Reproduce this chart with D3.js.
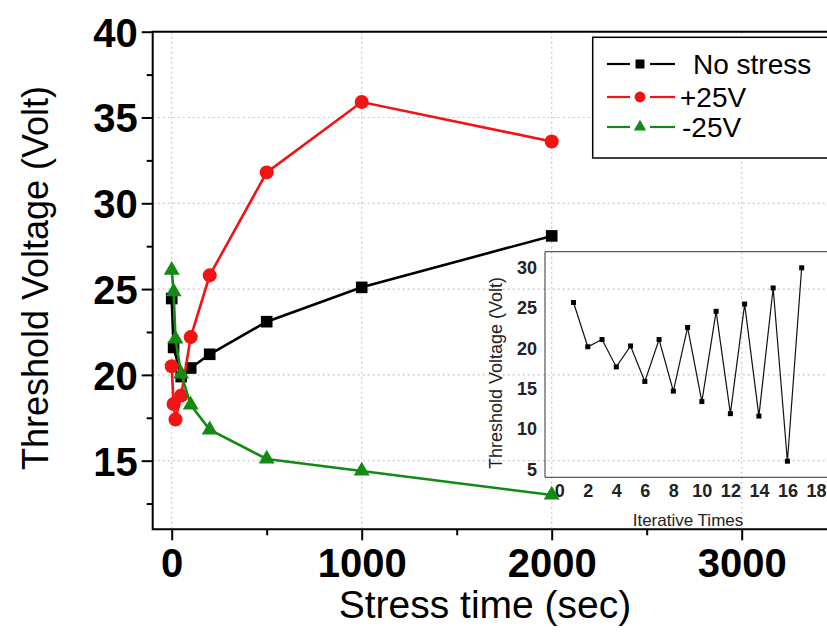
<!DOCTYPE html>
<html>
<head>
<meta charset="utf-8">
<script src="https://cdn.jsdelivr.net/npm/d3@7"></script>
<style>
  body { margin: 0; background: #fff; }
  text { font-family: "Liberation Sans", Arial, sans-serif; }
</style>
</head>
<body>
<script>
// main chart data: threshold voltage vs stress time
var noStressTime = [0, 10, 50, 100, 200, 500, 1000, 2000];
var noStressVt   = [24.45, 21.6, 19.9, 20.4, 21.2, 23.1, 25.1, 28.1];
var posTime = [0, 10, 20, 50, 100, 200, 500, 1000, 2000];
var posVt   = [20.5, 18.3, 17.4, 18.8, 22.2, 25.8, 31.8, 35.9, 33.6];
var negTime = [0, 10, 20, 50, 100, 200, 500, 1000, 2000];
var negVt   = [26.1, 24.85, 22.1, 20.05, 18.25, 16.8, 15.1, 14.4, 13.0];

var xTicks = [0, 1000, 2000, 3000];
var yTicks = [15, 20, 25, 30, 35, 40];
var legendNames = ["No stress", "+25V", "-25V"];

// inset data: threshold voltage vs iterative times
var iterTimes = [1, 2, 3, 4, 5, 6, 7, 8, 9, 10, 11, 12, 13, 14, 15, 16, 17];
var iterVt = [25.7, 20.2, 21.1, 17.7, 20.3, 15.9, 21.1, 14.7, 22.6, 13.4, 24.6, 11.9, 25.5, 11.6, 27.5, 6.0, 30.0];
var insetXTicks = [0, 2, 4, 6, 8, 10, 12, 14, 16, 18];
var insetYTicks = [5, 10, 15, 20, 25, 30];

var W = 827, H = 632;
var svg = d3.select("body").append("svg")
  .attr("width", W)
  .attr("height", H);

// scales
var plotLeft = 152.7, plotTop = 31.7, plotBottom = 529.3;
var x = d3.scaleLinear().domain([-100, 3600]).range([plotLeft, plotLeft + 3700 * 0.19]);
var y = d3.scaleLinear().domain([11, 40]).range([plotBottom, plotTop]);

// grid
var grid = svg.append("g");
grid.selectAll(".gx").data(xTicks).enter().append("line")
  .attr("x1", d => x(d)).attr("x2", d => x(d))
  .attr("y1", plotTop).attr("y2", plotBottom)
  .style("stroke", "#c8c8c8").style("stroke-width", 1.2)
  .style("stroke-dasharray", "2,3");
grid.selectAll(".gy").data(yTicks.filter(d => d < 40)).enter().append("line")
  .attr("x1", plotLeft).attr("x2", W)
  .attr("y1", d => y(d)).attr("y2", d => y(d))
  .style("stroke", "#c8c8c8").style("stroke-width", 1.2)
  .style("stroke-dasharray", "2,3");

// axes
var xAxis = d3.axisBottom(x).tickValues(d3.range(0, 3600, 500)).tickSize(10).tickFormat(d => xTicks.indexOf(d) >= 0 ? d : "");
var gx = svg.append("g").attr("transform", "translate(0," + plotBottom + ")").call(xAxis);
gx.select(".domain").remove();
gx.selectAll(".tick line").style("stroke", "#000").style("stroke-width", 2)
  .attr("y2", d => xTicks.indexOf(d) >= 0 ? 11 : 6);
gx.selectAll(".tick text").attr("y", 48).attr("dy", 0)
  .style("font-size", "40px").style("font-weight", "bold").style("fill", "#000")
  .style("font-family", "'Liberation Sans', Arial, sans-serif");

var yAxis = d3.axisLeft(y).tickValues(d3.range(12.5, 40.1, 2.5)).tickSize(10).tickFormat(d => yTicks.indexOf(d) >= 0 ? d : "");
var gy = svg.append("g").attr("transform", "translate(" + plotLeft + ",0)").call(yAxis);
gy.select(".domain").remove();
gy.selectAll(".tick line").style("stroke", "#000").style("stroke-width", 2)
  .attr("x2", d => yTicks.indexOf(d) >= 0 ? -11 : -6);
gy.selectAll(".tick text").attr("x", -15).attr("dy", "0.36em")
  .style("font-size", "40px").style("font-weight", "bold").style("fill", "#000")
  .style("font-family", "'Liberation Sans', Arial, sans-serif");

// frame
svg.append("path")
  .attr("d", "M" + W + "," + plotTop + "H" + plotLeft + "V" + plotBottom + "H" + W)
  .style("fill", "none").style("stroke", "#000").style("stroke-width", 2);

// axis titles
svg.append("text")
  .attr("x", 485).attr("y", 618)
  .attr("text-anchor", "middle")
  .style("font-size", "39px")
  .text("Stress time (sec)");
svg.append("text")
  .attr("transform", "translate(48,278) rotate(-90)")
  .attr("text-anchor", "middle")
  .style("font-size", "36px")
  .text("Threshold Voltage (Volt)");

// inset
var ix = d3.scaleLinear().domain([-1, 20]).range([545, 545 + 21 * 14.26]);
var iy = d3.scaleLinear().domain([4, 32]).range([477.3, 251.7]);

var inset = svg.append("g");
inset.append("path")
  .attr("d", "M" + W + "," + iy(32) + "H" + ix(-1) + "V" + iy(4) + "H" + W)
  .style("fill", "none").style("stroke", "#333").style("stroke-width", 1);

var gix = inset.append("g").attr("transform", "translate(0," + iy(4) + ")")
  .call(d3.axisBottom(ix).tickValues(insetXTicks).tickSize(0).tickPadding(7));
gix.select(".domain").remove();
gix.selectAll(".tick text").style("font-size", "18px").style("font-weight", "bold")
  .style("fill", "#222").style("font-family", "'Liberation Sans', Arial, sans-serif");

var giy = inset.append("g").attr("transform", "translate(" + ix(-1) + ",0)")
  .call(d3.axisLeft(iy).tickValues(insetYTicks).tickSize(0).tickPadding(8));
giy.select(".domain").remove();
giy.selectAll(".tick text").style("font-size", "18px").style("font-weight", "bold")
  .style("fill", "#222").style("font-family", "'Liberation Sans', Arial, sans-serif");

inset.append("text")
  .attr("x", 688).attr("y", 526)
  .attr("text-anchor", "middle")
  .style("font-size", "17px").style("fill", "#222")
  .text("Iterative Times");
inset.append("text")
  .attr("transform", "translate(502,373) rotate(-90)")
  .attr("text-anchor", "middle")
  .style("font-size", "18px").style("fill", "#222")
  .text("Threshold Voltage (Volt)");

var iterPts = iterTimes.map((d, i) => [d, iterVt[i]]);
inset.append("path")
  .attr("d", d3.line().x(d => ix(d[0])).y(d => iy(d[1]))(iterPts))
  .style("fill", "none").style("stroke", "#111").style("stroke-width", 1.2);
inset.selectAll(".isq").data(iterPts).enter().append("rect")
  .attr("x", d => ix(d[0]) - 2.5).attr("y", d => iy(d[1]) - 2.5)
  .attr("width", 5).attr("height", 5)
  .style("fill", "#000");

// series
var series = [
  { name: legendNames[0], t: noStressTime, v: noStressVt, color: "#000000", sym: d3.symbolSquare, size: 135 },
  { name: legendNames[1], t: posTime, v: posVt, color: "#f01414", sym: d3.symbolCircle, size: 155 },
  { name: legendNames[2], t: negTime, v: negVt, color: "#138a13", sym: d3.symbolTriangle, size: 110 }
];

series.forEach(function(s) {
  var pts = s.t.map((d, i) => [d, s.v[i]]);
  svg.append("path")
    .attr("d", d3.line().x(d => x(d[0])).y(d => y(d[1]))(pts))
    .style("fill", "none").style("stroke", s.color).style("stroke-width", 2.6);
  svg.selectAll(null).data(pts).enter().append("path")
    .attr("d", d3.symbol().type(s.sym).size(s.size))
    .attr("transform", d => "translate(" + x(d[0]) + "," + y(d[1]) + ")")
    .style("fill", s.color);
});

// legend
var lg = svg.append("g");
lg.append("rect")
  .attr("x", 592.7).attr("y", 37.3)
  .attr("width", 260).attr("height", 120.7)
  .style("fill", "#fff").style("stroke", "#000").style("stroke-width", 1.5);
var legendY = [64, 97, 127];
var textX = [693, 680, 682];
series.forEach(function(s, i) {
  var ly = legendY[i];
  lg.append("line").attr("x1", 607).attr("x2", 630).attr("y1", ly).attr("y2", ly)
    .style("stroke", s.color).style("stroke-width", 2.2);
  lg.append("line").attr("x1", 650).attr("x2", 675).attr("y1", ly).attr("y2", ly)
    .style("stroke", s.color).style("stroke-width", 2.2);
  lg.append("path")
    .attr("d", d3.symbol().type(s.sym).size(s.size * 0.6))
    .attr("transform", "translate(640," + ly + ")")
    .style("fill", s.color);
  lg.append("text")
    .attr("x", textX[i]).attr("y", ly + 10)
    .style("font-size", "28px")
    .text(s.name);
});
</script>
</body>
</html>
